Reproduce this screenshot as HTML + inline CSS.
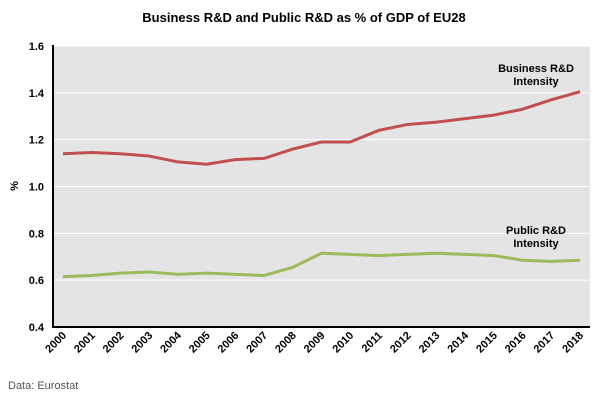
<!DOCTYPE html>
<html><head><meta charset="utf-8"><style>
body{margin:0;background:#fff;font-family:"Liberation Sans",Arial,sans-serif}
svg text{font-family:"Liberation Sans",Arial,sans-serif}
</style></head><body>
<svg id="c" width="608" height="403" xmlns="http://www.w3.org/2000/svg">
<text x="304" y="22" text-anchor="middle" font-size="13" font-weight="bold">Business R&amp;D and Public R&amp;D as % of GDP of EU28</text>
<rect x="53" y="46" width="537" height="281" fill="#e4e4e4"/>
<g id="grid"></g>
<g id="lines"></g>
<line x1="53" y1="45" x2="53" y2="328" stroke="#000" stroke-width="2"/>
<line x1="52" y1="327" x2="590" y2="327" stroke="#000" stroke-width="2"/>
<g id="yt"></g><g id="xt"></g>
<text x="18" y="186" font-size="11" font-weight="bold" transform="rotate(-90 18 186)" text-anchor="middle">%</text>
<text x="536" y="72" text-anchor="middle" font-size="11" font-weight="bold"><tspan x="536">Business R&amp;D</tspan><tspan x="536" dy="13">Intensity</tspan></text>
<text x="536" y="234" text-anchor="middle" font-size="11" font-weight="bold"><tspan x="536">Public R&amp;D</tspan><tspan x="536" dy="13">Intensity</tspan></text>
<text x="8" y="389" font-size="11" fill="#555">Data: Eurostat</text>
</svg>
<script>
const years=["2000","2001","2002","2003","2004","2005","2006","2007","2008","2009","2010","2011","2012","2013","2014","2015","2016","2017","2018"];
const business=[1.14,1.145,1.14,1.13,1.105,1.095,1.115,1.12,1.16,1.19,1.19,1.24,1.265,1.275,1.29,1.305,1.33,1.37,1.405];
const publicRD=[0.615,0.62,0.63,0.635,0.625,0.63,0.625,0.62,0.655,0.715,0.71,0.705,0.71,0.715,0.71,0.705,0.685,0.68,0.685];
const yTicks=[0.4,0.6,0.8,1.0,1.2,1.4,1.6];
const NS="http://www.w3.org/2000/svg";
const x=i=>63+i*(580-63)/(years.length-1);
const y=v=>327-(v-0.4)/1.2*281;
function mk(t,a,p){const e=document.createElementNS(NS,t);for(const k in a)e.setAttribute(k,a[k]);p.appendChild(e);return e;}
const grid=document.getElementById('grid'),yt=document.getElementById('yt'),xt=document.getElementById('xt'),lines=document.getElementById('lines');
yTicks.forEach(v=>{
 if(v>0.4){const g=mk('line',{x1:53,x2:590,y1:y(v),y2:y(v),stroke:'#fff','stroke-width':1},grid);
 
 }
 const t=mk('text',{x:44,y:y(v)+4,'text-anchor':'end','font-size':11,'font-weight':'bold'},yt);
 t.textContent=v.toFixed(1);
 
 
});
years.forEach((yr,i)=>{
 const tx=x(i)+4,ty=336;
 const t=mk('text',{x:tx,y:ty,'text-anchor':'end','font-size':11,'font-weight':'bold',transform:`rotate(-45 ${tx} ${ty})`},xt);
 t.textContent=yr;
 
 
});
function line(vals,col,name){
 const p=mk('polyline',{points:vals.map((v,i)=>x(i)+','+y(v)).join(' '),fill:'none',stroke:col,'stroke-width':3,'stroke-linejoin':'round'},lines);
 
 
}
line(business,'#c0504d','business-rd-line');
line(publicRD,'#9bbb59','public-rd-line');
</script>
</body></html>
